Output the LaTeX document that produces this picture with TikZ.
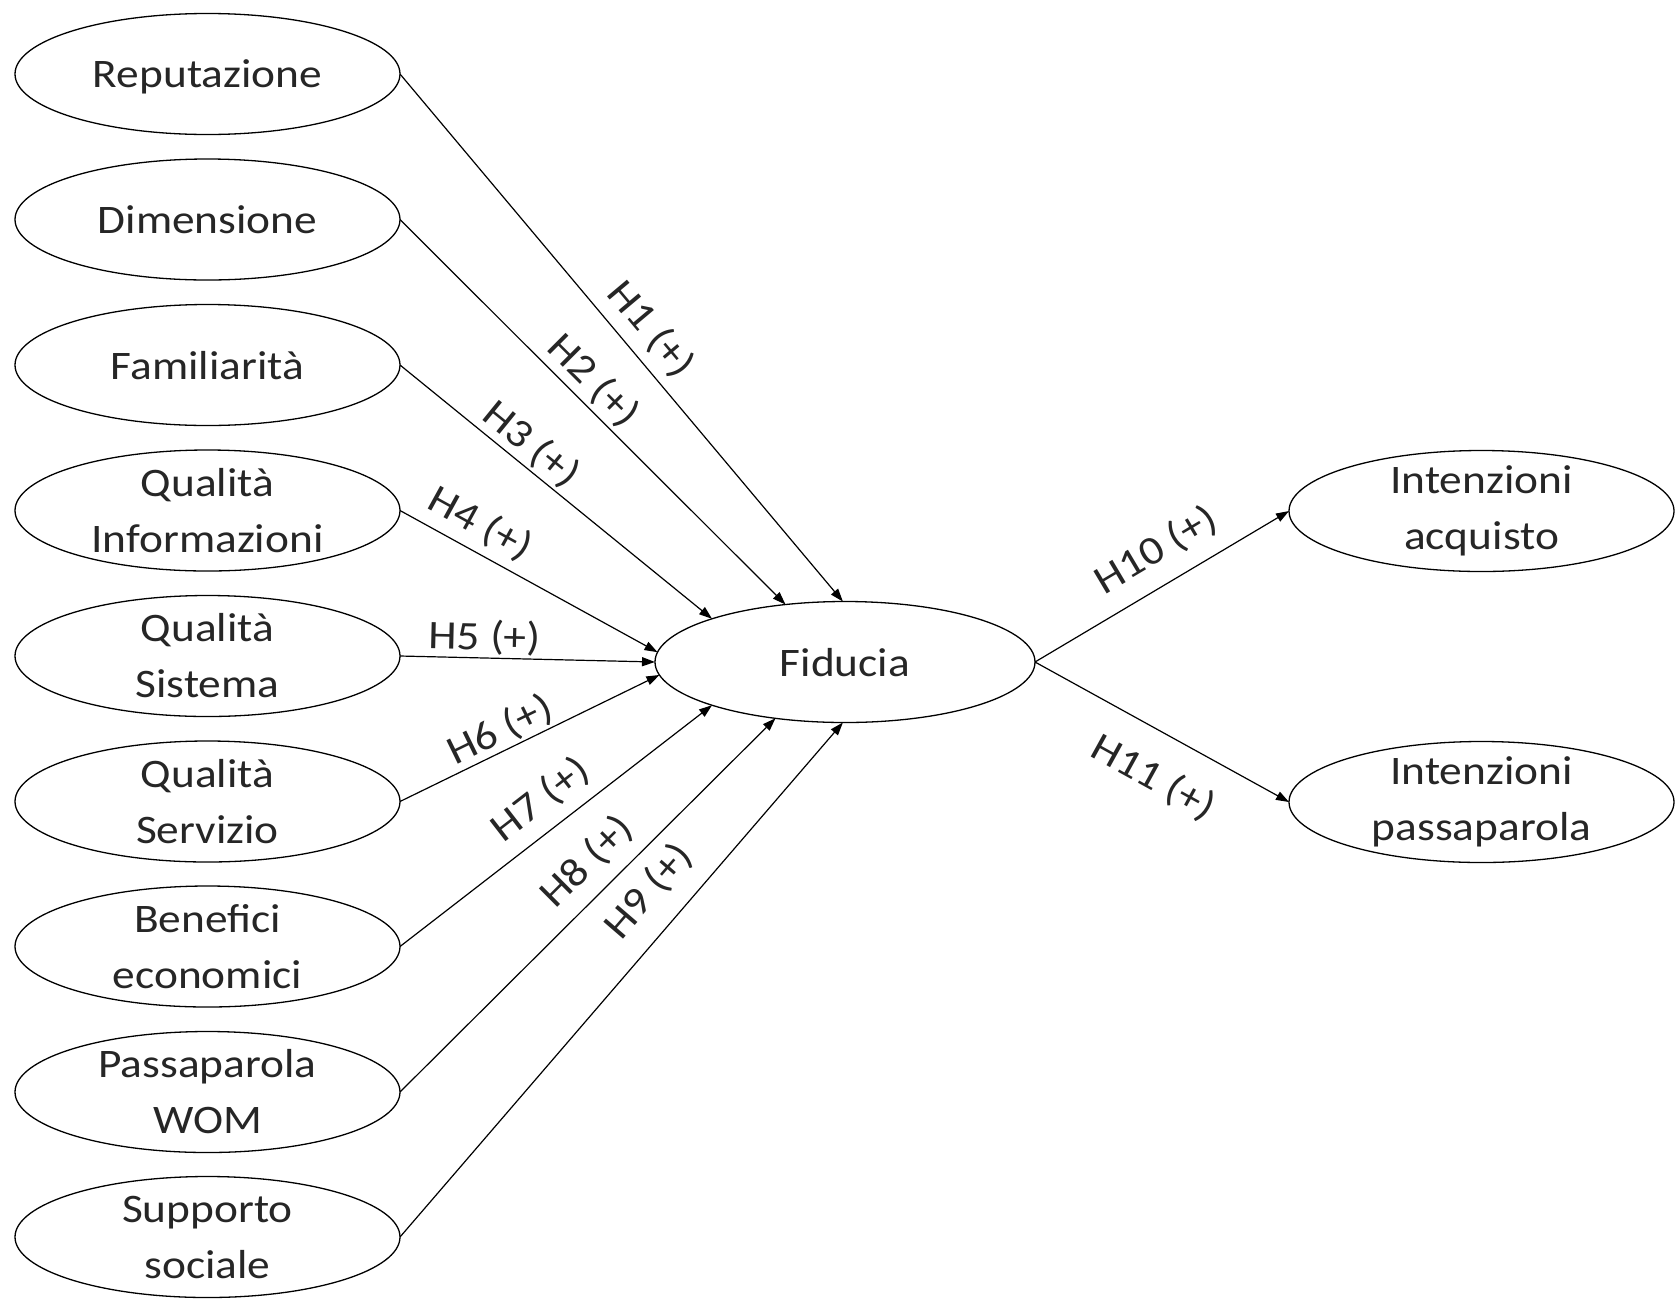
\documentclass[tikz,border=0pt]{standalone}
\usepackage{fontspec}
\setmainfont{Carlito}[FakeStretch=1.12]
\usetikzlibrary{arrows.meta,shapes.geometric}
\begin{document}
\begin{tikzpicture}[x=1pt,y=-1pt,
  every node/.style={font=\fontsize{40.5}{56}\selectfont, text=black!85},
  oval/.style={ellipse, draw, line width=1.3pt, minimum width=385pt, minimum height=121pt,
    inner sep=0pt, inner ysep=-14pt, outer sep=0pt, align=center},
  one/.style={text depth=0pt},
  link/.style={line width=1.2pt, -{Triangle[length=13pt,width=9pt]}},
  lab/.style={sloped, inner sep=0pt}
]
\useasboundingbox[fill=white] (0,0) rectangle (1675,1299);
% left column
\node[oval,one] (rep) at (207.5,74)   {Reputazione};
\node[oval,one] (dim) at (207.5,219.5) {Dimensione};
\node[oval,one] (fam) at (207.5,365)  {Familiarità};
\node[oval] (qi)  at (207.5,510.5)  {Qualità\\Informazioni};
\node[oval] (qs)  at (207.5,656)    {Qualità\\Sistema};
\node[oval] (qv)  at (207.5,801.5)  {Qualità\\Servizio};
\node[oval] (ben) at (207.5,946.5)  {Benefici\\economici};
\node[oval] (wom) at (207.5,1092)   {Passaparola\\WOM};
\node[oval] (sup) at (207.5,1237)   {Supporto\\sociale};
% centre
\node[oval,one,minimum width=380pt] (fid) at (845,662) {Fiducia};
% right column
\node[oval] (acq) at (1481.5,511) {Intenzioni\\acquisto};
\node[oval] (pas) at (1481.5,802) {Intenzioni\\passaparola};
% connectors
\draw[link] (rep.east) -- node[lab,pos=0.518,above=10pt] {H1 (+)} (fid.92);
\draw[link] (dim.east) -- node[lab,pos=0.46,above=4pt] {H2 (+)} (fid.136.4);
\draw[link] (fam.east) -- node[lab,pos=0.377,above=3pt] {H3 (+)} (fid.162.3);
\draw[link] (qi.east)  -- node[lab,pos=0.262,above=9pt] {H4 (+)} (fid.177);
\draw[link] (qs.east)  -- node[lab,pos=0.33,above=2pt] {H5 (+)} (fid.180.3);
\draw[link] (qv.east)  -- node[lab,pos=0.42,above=2pt] {H6 (+)} (fid.184.4);
\draw[link] (ben.east) -- node[lab,pos=0.51,above=12pt] {H7 (+)} (fid.198);
\draw[link] (wom.east) -- node[lab,pos=0.556,above=13pt] {H8 (+)} (fid.219.8);
\draw[link] (sup.east) -- node[lab,pos=0.625,above=19pt] {H9 (+)} (fid.268);
\draw[link] (fid.east) -- node[lab,pos=0.545,above=16pt] {H10 (+)} (acq.west);
\draw[link] (fid.east) -- node[lab,pos=0.55,below=26pt] {H11 (+)} (pas.west);
\end{tikzpicture}
\end{document}
